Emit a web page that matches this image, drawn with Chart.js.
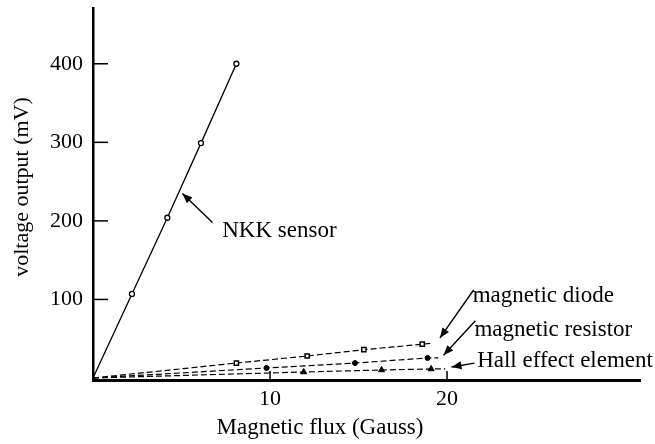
<!DOCTYPE html>
<html>
<head>
<meta charset="utf-8">
<script src="https://cdn.jsdelivr.net/npm/chart.js@4.4.1/dist/chart.umd.min.js"></script>
<style>
  html, body { margin: 0; padding: 0; background: #fff; }
  #wrap { width: 655px; height: 444px; }
</style>
</head>
<body>
<div id="wrap"><canvas id="chart"></canvas></div>
<script>
// values (x = Gauss, y = mV)
const nkkX = [0, 2.2, 4.2, 6.1, 8.1];
const nkkY = [0, 107, 204, 299, 400];
const diodeX = [0, 8.1, 12.1, 15.3, 18.6, 19.2];
const diodeY = [0, 19, 28, 36, 43, 44.5];
const resistorX = [0, 9.8, 14.8, 18.9, 19.5];
const resistorY = [0, 12.7, 19, 25.5, 25.5];
const hallX = [0, 11.9, 16.3, 19.1, 19.9];
const hallY = [0, 7.6, 10.2, 11.5, 11.5];
const xTicks = [10, 20];
const yTicks = [100, 200, 300, 400];

const FONT = '"Liberation Serif", "DejaVu Serif", serif';

function pts(xs, ys) {
  return xs.map((x, i) => ({ x: x, y: ys[i] }));
}

// no marker at the origin, and none at the free end of the dashed curves
function radiusFor(r, lastHasMarker) {
  return ctx => {
    const n = ctx.dataset.data.length;
    if (ctx.dataIndex === 0) return 0;
    if (!lastHasMarker && ctx.dataIndex === n - 1) return 0;
    return r;
  };
}

// labels with arrows, anchored in data units
const notes = [
  { text: 'NKK sensor', tx: 7.3, ty: 187, from: [6.75, 198], to: [5.05, 235] },
  { text: 'magnetic diode', tx: 21.45, ty: 104, from: [21.5, 112], to: [19.6, 51] },
  { text: 'magnetic resistor', tx: 21.55, ty: 61, from: [21.6, 73], to: [19.8, 29] },
  { text: 'Hall effect element', tx: 21.7, ty: 21.5, from: [21.55, 19], to: [20.25, 14] }
];

const decor = {
  id: 'decor',
  afterDraw(chart) {
    const c = chart.ctx;
    const xs = chart.scales.x, ys = chart.scales.y;
    const area = chart.chartArea;
    c.save();
    c.strokeStyle = '#000';
    c.fillStyle = '#000';
    c.lineWidth = 1.5;
    // inward ticks
    yTicks.forEach(v => {
      const p = ys.getPixelForValue(v);
      c.beginPath(); c.moveTo(area.left, p); c.lineTo(area.left + 15, p); c.stroke();
    });
    xTicks.forEach(v => {
      const p = xs.getPixelForValue(v);
      c.beginPath(); c.moveTo(p, area.bottom); c.lineTo(p, area.bottom - 9); c.stroke();
    });

    // axis titles
    c.textAlign = 'center';
    c.textBaseline = 'middle';
    c.font = '23px ' + FONT;
    c.fillText('Magnetic flux (Gauss)', 320, 428);
    c.font = '22px ' + FONT;
    c.save();
    c.translate(22, 187);
    c.rotate(-Math.PI / 2);
    c.fillText('voltage output (mV)', 0, 0);
    c.restore();

    // annotations
    c.font = '23px ' + FONT;
    c.textAlign = 'left';
    c.lineWidth = 1.4;
    notes.forEach(n => {
      c.fillText(n.text, xs.getPixelForValue(n.tx), ys.getPixelForValue(n.ty));
      const x1 = xs.getPixelForValue(n.from[0]), y1 = ys.getPixelForValue(n.from[1]);
      const x2 = xs.getPixelForValue(n.to[0]), y2 = ys.getPixelForValue(n.to[1]);
      c.beginPath(); c.moveTo(x1, y1); c.lineTo(x2, y2); c.stroke();
      const a = Math.atan2(y2 - y1, x2 - x1);
      const L = 10, W = 4;
      c.beginPath();
      c.moveTo(x2, y2);
      c.lineTo(x2 - L * Math.cos(a) + W * Math.sin(a), y2 - L * Math.sin(a) - W * Math.cos(a));
      c.lineTo(x2 - L * Math.cos(a) - W * Math.sin(a), y2 - L * Math.sin(a) + W * Math.cos(a));
      c.closePath();
      c.fill();
    });
    c.restore();
  }
};

new Chart(document.getElementById('chart'), {
  type: 'scatter',
  data: {
    datasets: [
      {
        label: 'NKK sensor',
        data: pts(nkkX, nkkY),
        showLine: true,
        borderColor: '#000',
        borderWidth: 1.3,
        pointStyle: 'circle',
        pointRadius: radiusFor(2.5, true),
        pointBackgroundColor: '#fff',
        pointBorderColor: '#000',
        pointBorderWidth: 1.3
      },
      {
        label: 'magnetic diode',
        data: pts(diodeX, diodeY),
        showLine: true,
        borderColor: '#000',
        borderWidth: 1.2,
        borderDash: [6, 3],
        pointStyle: 'rect',
        pointRadius: radiusFor(3, false),
        pointBackgroundColor: '#fff',
        pointBorderColor: '#000',
        pointBorderWidth: 1.5
      },
      {
        label: 'magnetic resistor',
        data: pts(resistorX, resistorY),
        showLine: true,
        borderColor: '#000',
        borderWidth: 1.2,
        borderDash: [6, 3],
        pointStyle: 'circle',
        pointRadius: radiusFor(2.5, false),
        pointBackgroundColor: '#000',
        pointBorderColor: '#000',
        pointBorderWidth: 1
      },
      {
        label: 'Hall effect element',
        data: pts(hallX, hallY),
        showLine: true,
        borderColor: '#000',
        borderWidth: 1.2,
        borderDash: [6, 3],
        pointStyle: 'triangle',
        pointRadius: radiusFor(3.5, false),
        pointBackgroundColor: '#000',
        pointBorderColor: '#000',
        pointBorderWidth: 1
      }
    ]
  },
  options: {
    responsive: true,
    maintainAspectRatio: false,
    animation: false,
    layout: { padding: { top: 8, right: 15, left: 0, bottom: 0 } },
    plugins: {
      legend: { display: false },
      tooltip: { enabled: false }
    },
    scales: {
      x: {
        type: 'linear',
        min: 0,
        max: 30.9,
        afterFit(s) { s.height = 64; s.paddingLeft = 0; s.paddingRight = 0; },
        afterBuildTicks(s) { s.ticks = xTicks.map(v => ({ value: v })); },
        grid: { display: true, drawOnChartArea: false, drawTicks: false },
        border: { display: true, color: '#000', width: 3 },
        ticks: {
          color: '#000',
          padding: 6,
          maxRotation: 0,
          font: { family: FONT, size: 22 }
        }
      },
      y: {
        type: 'linear',
        min: -2.55,
        max: 471,
        afterFit(s) { s.width = 93; s.paddingTop = 0; s.paddingBottom = 0; },
        afterBuildTicks(s) { s.ticks = yTicks.map(v => ({ value: v })); },
        grid: { display: true, drawOnChartArea: false, drawTicks: false },
        border: { display: true, color: '#000', width: 2.5 },
        ticks: {
          color: '#000',
          padding: 10,
          font: { family: FONT, size: 22 }
        }
      }
    }
  },
  plugins: [decor]
});
</script>
</body>
</html>
